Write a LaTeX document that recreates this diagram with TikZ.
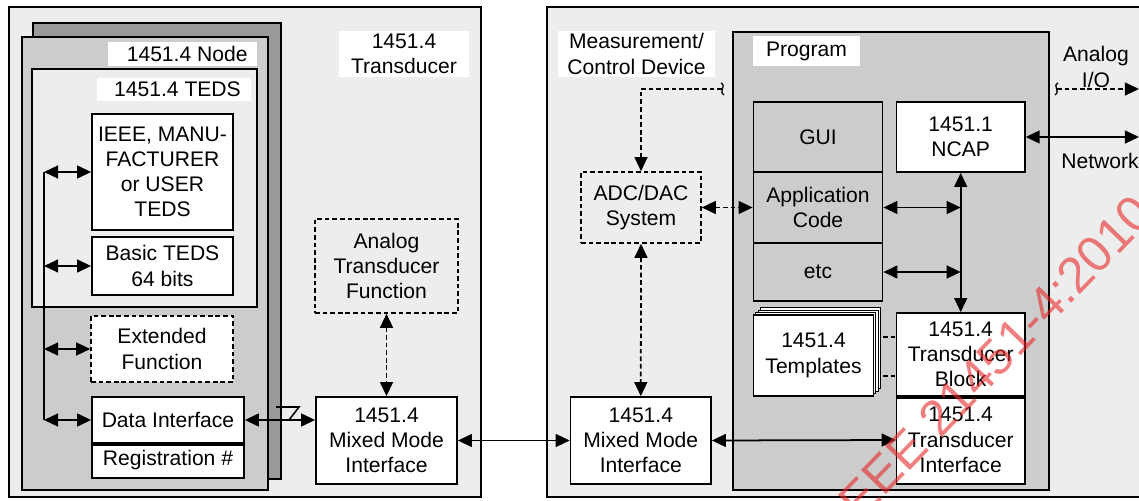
\documentclass[tikz,border=0pt]{standalone}
\usepackage{fontspec}
\setmainfont{Liberation Sans}
\usetikzlibrary{arrows.meta,calc}
\definecolor{panel}{HTML}{EDEDED}
\definecolor{midgray}{HTML}{CCCCCC}
\definecolor{deepgray}{HTML}{999999}
\definecolor{stamp}{HTML}{E82828}
% rectangle node given by its corners: [options]{name}{x1}{y1}{x2}{y2}{text}
\newcommand\rectnode[7][]{%
  \node[#1, minimum width={(#5-#3)*0.03cm}, minimum height={(#6-#4)*0.03cm}]
    (#2) at ({(#3+#5)/2},{(#4+#6)/2}) {#7};}
\begin{document}
\begin{tikzpicture}[x=0.03cm,y=-0.03cm,
  every node/.style={font=\fontsize{18}{21.5}\selectfont, align=center, inner sep=0pt},
  outer/.style={draw, line width=1.2pt, fill=panel},
  blk/.style={draw, line width=1.5pt, fill=white},
  grayblk/.style={draw, line width=1.5pt, fill=midgray},
  dashblk/.style={draw, line width=1.3pt, dash pattern=on 4pt off 2.5pt},
  tag/.style={fill=white},
  link/.style={line width=1.5pt, {Triangle[length=12pt,width=11pt]}-{Triangle[length=12pt,width=11pt]}},
  dlink/.style={link, dash pattern=on 4pt off 2.5pt},
  squig/.style={line width=1.1pt},
]
\useasboundingbox (0,0) rectangle (1139,500);

% ---------- left panel: transducer ----------
\rectnode[outer]{xdcr}{9}{7}{481}{497}{}
\rectnode[tag]{xdlbl}{339}{31}{469}{77}{1451.4\\Transducer}

\rectnode[draw, line width=1.5pt, fill=deepgray]{nodeback}{33}{23}{281}{479}{}
\rectnode[grayblk]{nodefront}{22}{37}{268}{490}{}
\rectnode[tag]{nodelbl}{108}{42}{257}{66}{\hspace*{8pt}1451.4 Node}

\rectnode[draw, line width=1.5pt, fill=panel]{teds}{32}{69}{257}{307}{}
\rectnode[tag]{tedslbl}{97}{78}{251}{101}{\hspace*{6pt}1451.4 TEDS}

\rectnode[blk]{mfr}{92}{114}{233}{230}{IEEE, MANU-\\FACTURER\\or USER\\TEDS}
\rectnode[blk]{basic}{92}{237}{233}{295}{Basic TEDS\\64 bits}
\rectnode[dashblk, fill=white]{ext}{91}{316}{233}{382}{Extended\\Function}
\rectnode[blk]{dataif}{92}{397}{244}{443}{Data Interface}
\rectnode[blk]{reg}{92}{443}{244}{478}{Registration \#}
\draw[line width=3.2pt] (dataif.south west) -- (dataif.south east);

\rectnode[dashblk]{atf}{315}{219}{458}{313}{Analog\\Transducer\\Function}
\rectnode[blk]{mmiL}{316}{397}{457}{484}{1451.4\\Mixed Mode\\Interface}

% internal bus of the node
\coordinate (lbus) at (44,0);
\draw[line width=1.5pt] (lbus |- mfr.west) -- (lbus |- dataif.west);
\draw[link] (mfr.west -| lbus) -- (mfr.west);
\draw[link] (basic.west -| lbus) -- (basic.west);
\draw[link] (ext.west -| lbus) -- (ext.west);
\draw[link] (dataif.west -| lbus) -- (dataif.west);

\draw[link] (dataif.east) -- (dataif.east -| mmiL.west);
\draw[line width=1.3pt] (276,407) -- (299,407) -- (289,420);
\draw[dlink] (atf.south) -- (mmiL.north);

% ---------- right panel: measurement / control device ----------
\rectnode[outer]{meas}{547}{7}{1160}{497}{}
\rectnode[tag]{measlbl}{558}{31}{715}{77}{Measurement/\\Control Device}

\rectnode[grayblk, line width=1.3pt]{prog}{733}{32}{1049}{490}{}
\rectnode[tag]{proglbl}{753}{36}{860}{66}{Program}

\rectnode[grayblk]{gui}{753.5}{102}{882.5}{172}{GUI}
\rectnode[grayblk]{app}{753.5}{172}{882.5}{243}{Application\\Code}
\rectnode[grayblk]{etc}{753.5}{243}{882.5}{301}{etc}
\rectnode[blk]{ncap}{896.6}{102}{1024.8}{172}{1451.1\\NCAP}

\rectnode[dashblk]{adc}{581}{172}{701}{243}{ADC/DAC\\System}

% stacked template sheets
\foreach \k in {3,2,1}
  \draw[line width=1pt, fill=white] (753.5+2.4*\k,315-2.4*\k) rectangle (873.5+2.4*\k,396-2.4*\k);
\rectnode[blk, line width=1.3pt]{tmpl}{753.5}{315}{873.5}{396}{1451.4\\Templates}

\rectnode[blk]{tblock}{896.6}{313}{1024.8}{396}{1451.4\\Transducer\\Block}
\rectnode[blk]{tif}{896.6}{396}{1024.8}{484}{1451.4\\Transducer\\Interface}
\draw[line width=3.2pt] (tblock.south west) -- (tblock.south east);

\rectnode[blk]{mmiR}{570.6}{397}{711}{484}{1451.4\\Mixed Mode\\Interface}

% template links
\coordinate (tl1) at (883,337);
\coordinate (tl2) at (883,376);
\draw[line width=1.2pt, dash pattern=on 4pt off 2.5pt] (tl1) -- (tl1 -| tblock.west);
\draw[line width=1.2pt, dash pattern=on 4pt off 2.5pt] (tl2) -- (tl2 -| tblock.west);

% connectors
\coordinate (sq1) at (722,89);
\draw[line width=1.3pt, dash pattern=on 4pt off 2.5pt, -{Triangle[length=12pt,width=11pt]}] (sq1) -| (adc.north);
\draw[squig] ($(sq1)+(-1,-6)$) .. controls ($(sq1)+(5,-3)$) and ($(sq1)+(-4,2)$) .. ($(sq1)+(2,6)$);
\draw[dlink] (adc.east) -- (app.west);
\draw[dlink] (adc.south) -- (mmiR.north);
\draw[link] (mmiL.east) -- (mmiR.west);
\draw[link] (mmiR.east) -- (tif.west);
\draw[link] (ncap.south) -- (tblock.north);
\draw[link] (app.east) -- (app.east -| ncap.south);
\draw[link] (etc.east) -- (etc.east -| ncap.south);

% external links
\coordinate (net) at (1139,137);
\draw[link] (ncap.east) -- (net);
\node (netlbl) at (1100,161) {Network};
\coordinate (aio) at (1057,89);
\coordinate (aioend) at (1139,89);
\draw[line width=1.3pt, dash pattern=on 4pt off 2.5pt, -{Triangle[length=12pt,width=11pt]}] (aio) -- (aioend);
\draw[squig] ($(aio)+(1,-6)$) .. controls ($(aio)+(-5,-3)$) and ($(aio)+(4,2)$) .. ($(aio)+(-2,6)$);
\node (aiolbl) at (1096,67) {Analog\\I/O};

% stamp across the figure
\node[rotate=46, text=stamp, text opacity=0.6, font=\fontsize{43}{43}\selectfont] (stampnode) at (991,362) {IEEE 21451-4:2010};
\end{tikzpicture}
\end{document}
